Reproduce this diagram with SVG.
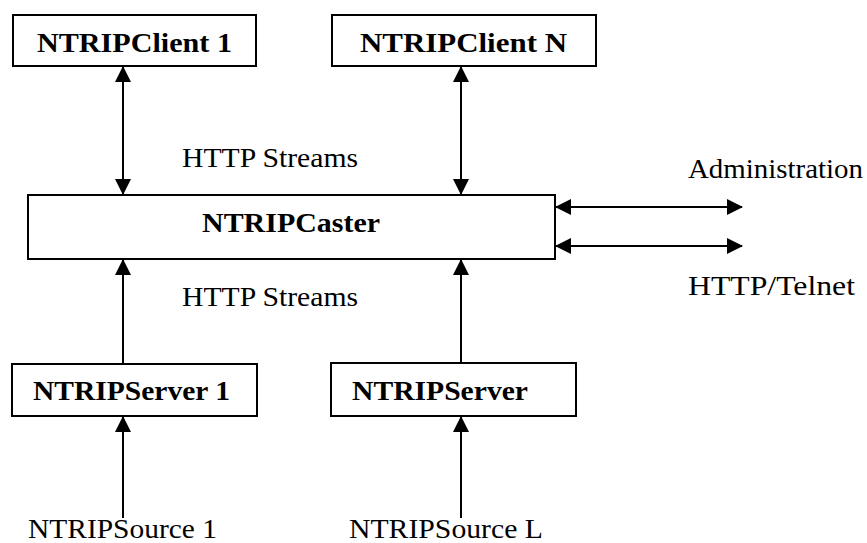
<svg xmlns="http://www.w3.org/2000/svg" width="867" height="543" viewBox="0 0 867 543">
<style>
.box{fill:#fff;stroke:#000;stroke-width:2}
.t{font-family:"Liberation Serif",serif;font-size:28px;fill:#000}
.b{font-weight:bold}
.c{stroke:#000;stroke-width:2;fill:none}
</style>
<defs>
<marker id="ah" markerUnits="userSpaceOnUse" markerWidth="16" markerHeight="16" viewBox="0 0 16 16" refX="15" refY="8" orient="auto-start-reverse">
<path d="M0,0 L16,8 L0,16 Z" fill="#000"/>
</marker>
</defs>
<rect width="867" height="543" fill="#fff"/>
<g id="connectors">
<line class="c" x1="123" y1="67" x2="123" y2="194" marker-start="url(#ah)" marker-end="url(#ah)"/>
<line class="c" x1="461" y1="67" x2="461" y2="194" marker-start="url(#ah)" marker-end="url(#ah)"/>
<line class="c" x1="123" y1="364" x2="123" y2="260" marker-end="url(#ah)"/>
<line class="c" x1="461" y1="363" x2="461" y2="260" marker-end="url(#ah)"/>
<line class="c" x1="123" y1="518" x2="123" y2="417" marker-end="url(#ah)"/>
<line class="c" x1="461" y1="518" x2="461" y2="417" marker-end="url(#ah)"/>
<line class="c" x1="556" y1="207" x2="742" y2="207" marker-start="url(#ah)" marker-end="url(#ah)"/>
<line class="c" x1="556" y1="246" x2="742" y2="246" marker-start="url(#ah)" marker-end="url(#ah)"/>
</g>
<g id="client1">
<rect class="box" x="13" y="15" width="243" height="51"/>
<text class="t b" x="37" y="52" textLength="195" lengthAdjust="spacingAndGlyphs">NTRIPClient 1</text>
</g>
<g id="clientN">
<rect class="box" x="332" y="15" width="264" height="51"/>
<text class="t b" x="360" y="52" textLength="207" lengthAdjust="spacingAndGlyphs">NTRIPClient N</text>
</g>
<g id="caster">
<rect class="box" x="28" y="195" width="527" height="64"/>
<text class="t b" x="202" y="232" textLength="178" lengthAdjust="spacingAndGlyphs">NTRIPCaster</text>
</g>
<g id="server1">
<rect class="box" x="12" y="364" width="245" height="52"/>
<text class="t b" x="33" y="400" textLength="197" lengthAdjust="spacingAndGlyphs">NTRIPServer 1</text>
</g>
<g id="serverL">
<rect class="box" x="331" y="363" width="245" height="53"/>
<text class="t b" x="352" y="400" textLength="176" lengthAdjust="spacingAndGlyphs">NTRIPServer</text>
</g>
<g id="labels">
<text class="t" x="182" y="167" textLength="176" lengthAdjust="spacingAndGlyphs">HTTP Streams</text>
<text class="t" x="182" y="306" textLength="176" lengthAdjust="spacingAndGlyphs">HTTP Streams</text>
<text class="t" x="688" y="178" textLength="175" lengthAdjust="spacingAndGlyphs">Administration</text>
<text class="t" x="688" y="295" textLength="167" lengthAdjust="spacingAndGlyphs">HTTP/Telnet</text>
<text class="t" x="28" y="538" textLength="189" lengthAdjust="spacingAndGlyphs">NTRIPSource 1</text>
<text class="t" x="349" y="538" textLength="194" lengthAdjust="spacingAndGlyphs">NTRIPSource L</text>
</g>
</svg>
